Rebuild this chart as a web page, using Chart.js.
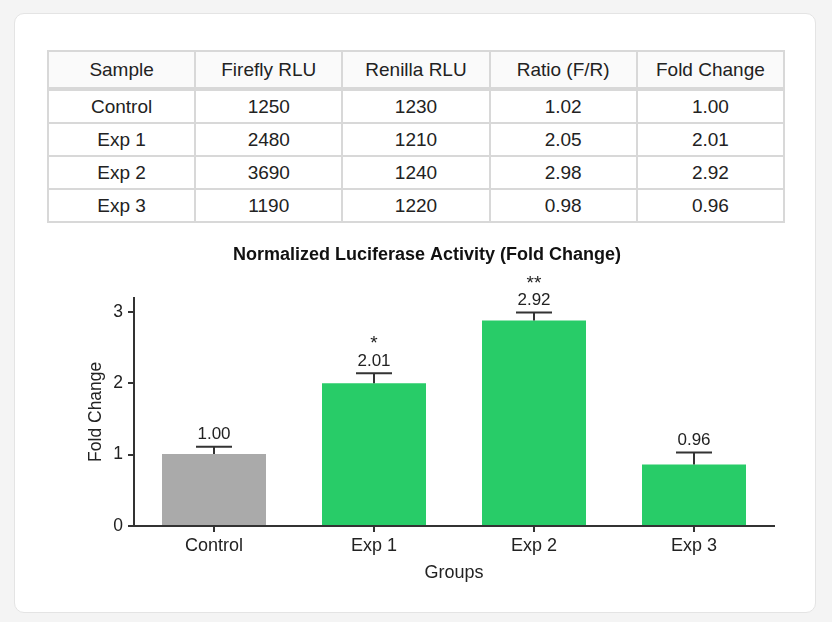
<!DOCTYPE html>
<html lang="en">
<head>
  <meta charset="UTF-8">
  <title>Luciferase Assay</title>
  <script src="https://cdn.jsdelivr.net/npm/chart.js"></script>
  <style>
    html, body { margin: 0; padding: 0; background: #f4f4f4; font-family: 'Liberation Sans', Arial, sans-serif; }
    .card {
      position: absolute; left: 14px; top: 13px; width: 800px; height: 598px;
      background: #fff; border: 1px solid #e4e4e4; border-radius: 10px;
    }
    table {
      position: absolute; left: 47px; top: 50px; width: 738px;
      border-collapse: collapse; table-layout: fixed; font-size: 19px; color: #222;
    }
    td, th { border: 2px solid #d8d8d8; text-align: center; font-weight: normal; padding: 0; }
    th { height: 35px; background: #fafafa; border-bottom: 4px solid #d8d8d8; }
    td { height: 31px; }
    .grafico { position: absolute; left: 0; top: 232px; width: 832px; height: 368px; }
  </style>
</head>
<body>
  <div class="card"></div>
  <table id="tabela">
    <thead><tr id="cabecalho"></tr></thead>
    <tbody id="corpo"></tbody>
  </table>
  <div class="grafico"><canvas id="grafico1"></canvas></div>

  <script>
    // dados da tabela
    const colunas = ['Sample', 'Firefly RLU', 'Renilla RLU', 'Ratio (F/R)', 'Fold Change'];
    const amostras = ['Control', 'Exp 1', 'Exp 2', 'Exp 3'];
    const firefly = [1250, 2480, 3690, 1190];
    const renilla = [1230, 1210, 1240, 1220];
    const razao = ['1.02', '2.05', '2.98', '0.98'];
    const foldTexto = ['1.00', '2.01', '2.92', '0.96'];

    // dados do grafico
    const alturas = [1.01, 2.00, 2.88, 0.86];
    const erroSuperior = [0.10, 0.14, 0.11, 0.17];
    const estrelas = ['', '*', '**', ''];
    const coresBarras = ['#aaaaaa', '#28cc68', '#28cc68', '#28cc68'];
    const ticksY = [0, 1, 2, 3];

    const cab = document.getElementById('cabecalho');
    colunas.forEach(c => { const th = document.createElement('th'); th.textContent = c; cab.appendChild(th); });
    const corpo = document.getElementById('corpo');
    for (let i = 0; i < amostras.length; i++) {
      const tr = document.createElement('tr');
      [amostras[i], firefly[i], renilla[i], razao[i], foldTexto[i]].forEach(v => {
        const td = document.createElement('td'); td.textContent = v; tr.appendChild(td);
      });
      corpo.appendChild(tr);
    }

    const fonte = "'Liberation Sans', Arial, sans-serif";

    // barras de erro + rotulos
    const errosPlugin = {
      id: 'erros',
      afterDatasetsDraw(chart) {
        const ctx = chart.ctx;
        const y = chart.scales.y;
        const meta = chart.getDatasetMeta(0);
        ctx.save();
        ctx.strokeStyle = '#333';
        ctx.lineWidth = 2;
        ctx.fillStyle = '#222';
        ctx.textAlign = 'center';
        ctx.textBaseline = 'middle';
        meta.data.forEach((bar, i) => {
          const yBase = y.getPixelForValue(alturas[i]);
          const yTop = y.getPixelForValue(alturas[i] + erroSuperior[i]);
          ctx.beginPath();
          ctx.moveTo(bar.x, yBase);
          ctx.lineTo(bar.x, yTop);
          ctx.moveTo(bar.x - 18, yTop);
          ctx.lineTo(bar.x + 18, yTop);
          ctx.stroke();
          ctx.font = '17px ' + fonte;
          ctx.fillText(foldTexto[i], bar.x, yTop - 12);
          if (estrelas[i]) {
            ctx.font = '19px ' + fonte;
            ctx.fillText(estrelas[i], bar.x, yTop - 29);
          }
        });
        ctx.restore();
      }
    };

    const ctx = document.getElementById('grafico1').getContext('2d');
    const grafico1 = new Chart(ctx, {
      type: 'bar',
      data: {
        labels: amostras,
        datasets: [{
          label: 'Fold Change',
          data: alturas,
          backgroundColor: coresBarras,
          categoryPercentage: 0.65,
          barPercentage: 1.0
        }]
      },
      options: {
        responsive: true,
        maintainAspectRatio: false,
        animation: false,
        layout: { padding: { left: 80, right: 58, top: 0, bottom: 0 } },
        plugins: {
          legend: { display: false },
          tooltip: { enabled: false },
          title: {
            display: true,
            text: 'Normalized Luciferase Activity (Fold Change)',
            color: '#111',
            font: { family: fonte, size: 18, weight: 'bold' },
            padding: { top: 12, bottom: 32 }
          }
        },
        scales: {
          x: {
            offset: true,
            grid: { display: true, drawOnChartArea: false, offset: false, drawTicks: true, tickLength: 6, color: '#333', lineWidth: 2 },
            border: { display: true, color: '#333', width: 2 },
            ticks: { color: '#222', padding: 3, font: { family: fonte, size: 18 } },
            title: { display: true, text: 'Groups', color: '#222', font: { family: fonte, size: 18 }, padding: { top: 0, bottom: 16 } },
            afterFit: s => { s.height = 74; }
          },
          y: {
            min: 0,
            max: 3.2,
            grid: { display: true, drawOnChartArea: false, drawTicks: true, tickLength: 6, color: '#333', lineWidth: 2 },
            border: { display: true, color: '#333', width: 2 },
            ticks: { color: '#222', padding: 5, font: { family: fonte, size: 17.5 } },
            afterBuildTicks: s => { s.ticks = ticksY.map(v => ({ value: v })); },
            title: { display: true, text: 'Fold Change', color: '#222', font: { family: fonte, size: 17.5 }, padding: { top: 6, bottom: 0 } },
            afterFit: s => { s.width = 54; }
          }
        }
      },
      plugins: [errosPlugin]
    });
  </script>
</body>
</html>
